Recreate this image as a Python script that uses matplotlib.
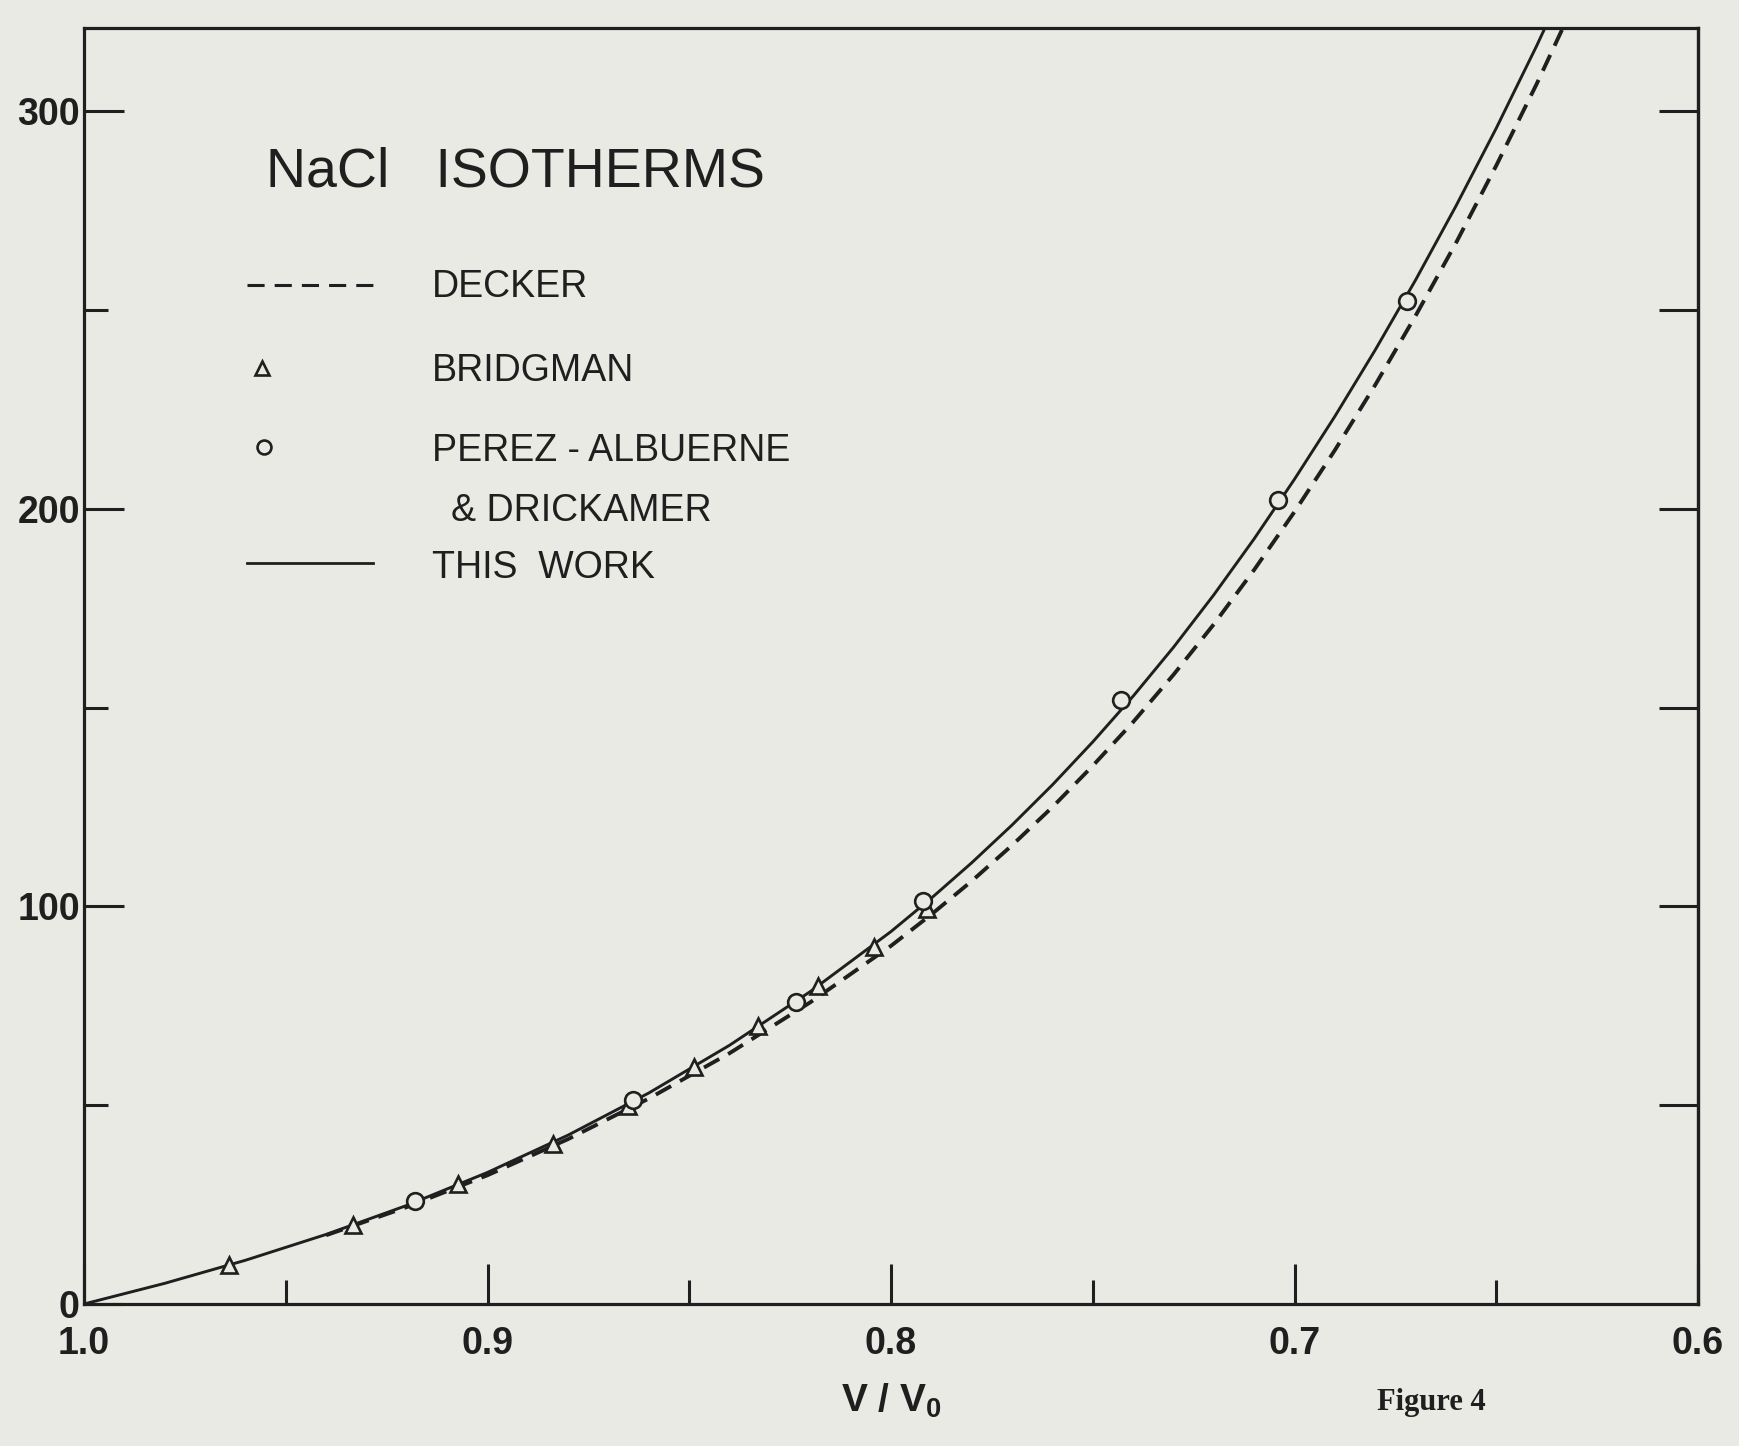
import matplotlib
matplotlib.use("Agg")
import matplotlib.pyplot as plt
from matplotlib.ticker import MultipleLocator, FixedLocator

plt.rcParams['font.family'] = ['Liberation Sans', 'DejaVu Sans']
plt.rcParams['mathtext.fontset'] = 'custom'
plt.rcParams['mathtext.rm'] = 'Liberation Sans:bold'

PAPER = '#e9eae3'
INK = '#1f1f1f'

# curves (V/V0 -> P in kbar)
vv_this_work = [1.0, 0.98, 0.96, 0.94, 0.92, 0.90, 0.88, 0.86, 0.84, 0.82,
                0.80, 0.79, 0.78, 0.77, 0.76, 0.75, 0.74, 0.73, 0.72, 0.71,
                0.70, 0.69, 0.68, 0.67, 0.66, 0.65, 0.64, 0.63]
p_this_work = [0, 5.2, 11.0, 17.5, 24.8, 33.1, 42.5, 53.1, 65.1, 78.6,
               93.7, 102.1, 111.0, 120.5, 130.6, 141.4, 152.9, 165.2, 178.4, 192.5,
               207.5, 223.3, 240.0, 257.6, 276.2, 295.8, 316.5, 338.3]

vv_decker = [0.94, 0.92, 0.90, 0.88, 0.86, 0.84, 0.82, 0.80, 0.79, 0.78,
             0.77, 0.76, 0.75, 0.74, 0.73, 0.72, 0.71, 0.70, 0.69, 0.68,
             0.67, 0.66, 0.65, 0.64, 0.63]
p_decker = [17.3, 24.4, 32.4, 41.5, 51.7, 63.1, 75.9, 90.1, 98.0, 106.4,
            115.4, 125.0, 135.4, 146.4, 158.3, 171.0, 184.7, 199.3, 214.8, 231.2,
            248.6, 266.9, 286.4, 306.9, 328.6]

# data points
vv_bridgman = [0.964, 0.9334, 0.9073, 0.8837, 0.8653, 0.8488, 0.8329, 0.818, 0.8043, 0.7911]
p_bridgman = [9.7, 20.0, 30.3, 40.3, 49.7, 59.7, 70.0, 80.0, 89.7, 99.4]

vv_perez = [0.918, 0.864, 0.8235, 0.792, 0.743, 0.704, 0.672]
p_perez = [25.8, 51.4, 76.1, 101.4, 151.9, 202.2, 252.2]

x_ticks = [1.0, 0.9, 0.8, 0.7, 0.6]
x_ticklabels = ["1.0", "0.9", "0.8", "0.7", "0.6"]
y_ticks = [0, 100, 200, 300]
y_right_ticks = [50, 100, 150, 200, 250, 300]

fig = plt.figure(figsize=(17.4, 14.46), dpi=100, facecolor=PAPER)
ax = fig.add_axes([0.04828, 0.0982, 0.92759, 0.88243])
ax.set_facecolor(PAPER)

ax.plot(vv_this_work, p_this_work, color=INK, lw=2.1, zorder=3)
ax.plot(vv_decker, p_decker, color=INK, lw=2.8, linestyle=(0, (4.5, 2.6)), zorder=3)
ax.plot(vv_bridgman, p_bridgman, linestyle='none', marker='^', ms=11, mew=1.9,
        mec=INK, mfc=PAPER, zorder=4)
ax.plot(vv_perez, p_perez, linestyle='none', marker='o', ms=12, mew=1.9,
        mec=INK, mfc=PAPER, zorder=5)

ax.set_xlim(1.0, 0.6)
ax.set_ylim(0, 321)
ax.xaxis.set_major_locator(FixedLocator(x_ticks))
ax.set_xticklabels(x_ticklabels)
ax.xaxis.set_minor_locator(MultipleLocator(0.05))
ax.yaxis.set_major_locator(FixedLocator(y_ticks))
ax.yaxis.set_minor_locator(MultipleLocator(50))

ax.tick_params(axis='both', which='major', direction='in', length=29, width=2.2,
               color=INK, labelsize=27, labelcolor=INK, top=False, right=False)
ax.tick_params(axis='both', which='minor', direction='in', length=17, width=2.2,
               color=INK, top=False, right=False)
ax.tick_params(axis='x', which='major', pad=16)
ax.tick_params(axis='y', which='major', pad=3)
for lab in ax.get_xticklabels() + ax.get_yticklabels():
    lab.set_fontweight('bold')
for s in ax.spines.values():
    s.set_linewidth(2.3)
    s.set_color(INK)

sec = ax.secondary_yaxis('right')
sec.set_yticks(y_right_ticks)
sec.tick_params(direction='in', length=28, width=2.2, color=INK, labelright=False)
sec.spines['right'].set_linewidth(2.3)
sec.spines['right'].set_color(INK)

ax.set_xlabel(r"V / V$_0$", fontsize=28, fontweight='bold', color=INK, labelpad=14)

# hand drawn key, as in the original
tr = ax.transAxes
ax.text(0.1126, 0.8759, "NaCl   ISOTHERMS", transform=tr, fontsize=40, color=INK,
        ha='left', va='baseline')
ax.plot([0.1009, 0.1788], [0.7986, 0.7986], transform=tr, color=INK, lw=2.2,
        linestyle=(0, (5.6, 3.3)), clip_on=False)
ax.text(0.2153, 0.7895, "DECKER", transform=tr, fontsize=27, color=INK, va='baseline')
ax.plot([0.1101], [0.7335], transform=tr, marker='^', ms=10, mew=1.9, mec=INK,
        mfc=PAPER, clip_on=False)
ax.text(0.2153, 0.7235, "BRIDGMAN", transform=tr, fontsize=27, color=INK, va='baseline')
ax.plot([0.1114], [0.6716], transform=tr, marker='o', ms=10, mew=1.9, mec=INK,
        mfc=PAPER, clip_on=False)
ax.text(0.2153, 0.6605, "PEREZ - ALBUERNE", transform=tr, fontsize=27, color=INK,
        va='baseline')
ax.text(0.2271, 0.6140, "& DRICKAMER", transform=tr, fontsize=27, color=INK,
        va='baseline')
ax.plot([0.1009, 0.1788], [0.5810, 0.5810], transform=tr, color=INK, lw=2.0,
        clip_on=False)
ax.text(0.2153, 0.5690, "THIS  WORK", transform=tr, fontsize=27, color=INK, va='baseline')

fig.text(0.8224, 0.0304, "Figure 4", family=['Liberation Serif', 'DejaVu Serif'],
         weight='bold', fontsize=22, color=INK, ha='center', va='center')

fig.savefig("out.png", dpi=100, facecolor=PAPER)
